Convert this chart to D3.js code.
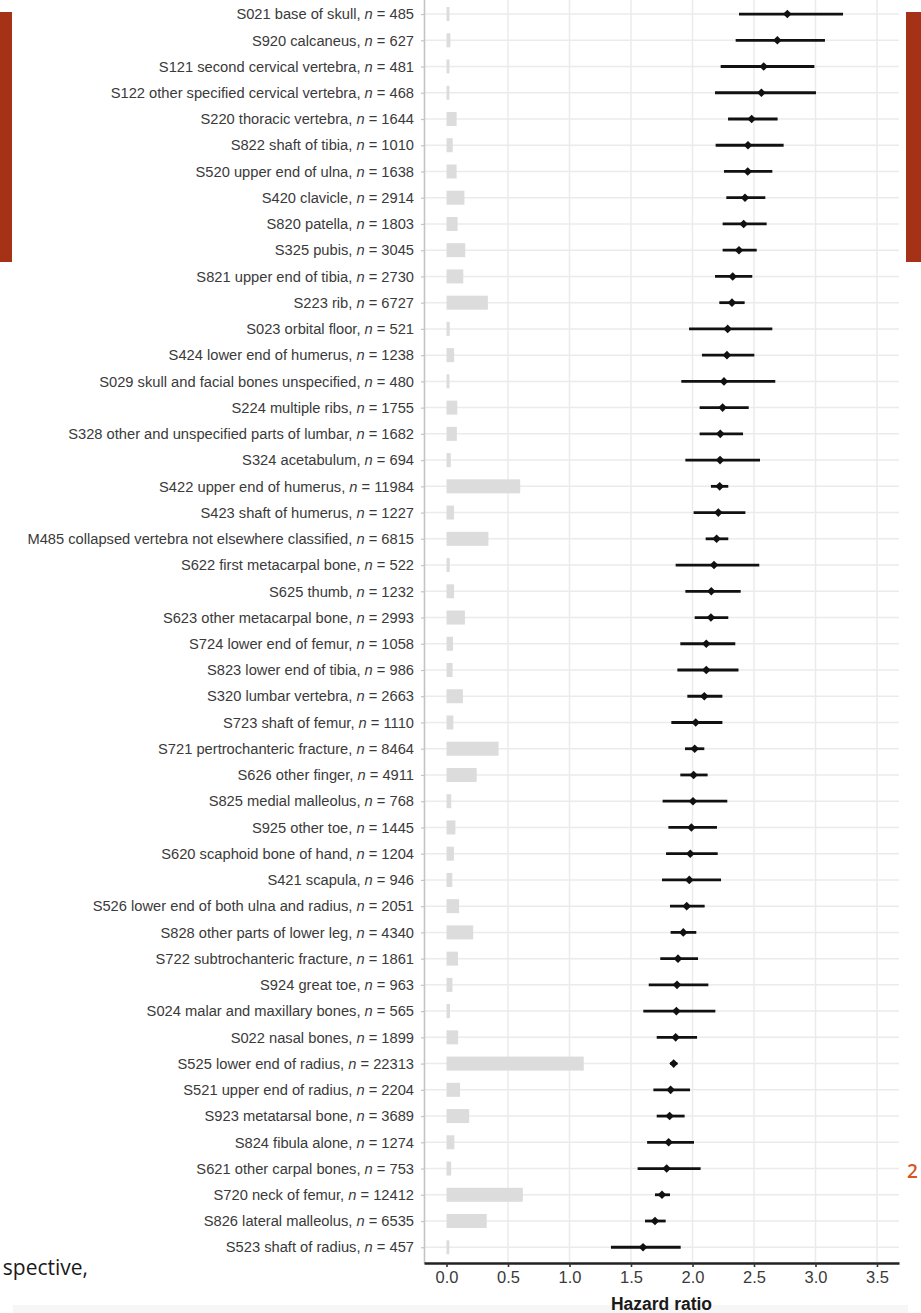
<!DOCTYPE html>
<html>
<head>
<meta charset="utf-8">
<script src="https://cdn.jsdelivr.net/npm/d3@7"></script>
<style>
  html, body { margin: 0; padding: 0; background: #ffffff; }
  svg { display: block; }
</style>
</head>
<body>
<svg id="chart" width="921" height="1313"></svg>
<script>
// Fracture sites (top to bottom), case counts and hazard ratios with 95% CI
const sites = [
  "S021 base of skull", "S920 calcaneus", "S121 second cervical vertebra",
  "S122 other specified cervical vertebra", "S220 thoracic vertebra", "S822 shaft of tibia",
  "S520 upper end of ulna", "S420 clavicle", "S820 patella", "S325 pubis",
  "S821 upper end of tibia", "S223 rib", "S023 orbital floor", "S424 lower end of humerus",
  "S029 skull and facial bones unspecified", "S224 multiple ribs",
  "S328 other and unspecified parts of lumbar", "S324 acetabulum", "S422 upper end of humerus",
  "S423 shaft of humerus", "M485 collapsed vertebra not elsewhere classified",
  "S622 first metacarpal bone", "S625 thumb", "S623 other metacarpal bone",
  "S724 lower end of femur", "S823 lower end of tibia", "S320 lumbar vertebra",
  "S723 shaft of femur", "S721 pertrochanteric fracture", "S626 other finger",
  "S825 medial malleolus", "S925 other toe", "S620 scaphoid bone of hand", "S421 scapula",
  "S526 lower end of both ulna and radius", "S828 other parts of lower leg",
  "S722 subtrochanteric fracture", "S924 great toe", "S024 malar and maxillary bones",
  "S022 nasal bones", "S525 lower end of radius", "S521 upper end of radius",
  "S923 metatarsal bone", "S824 fibula alone", "S621 other carpal bones",
  "S720 neck of femur", "S826 lateral malleolus", "S523 shaft of radius"
];

const counts = [
  485, 627, 481, 468, 1644, 1010, 1638, 2914, 1803, 3045,
  2730, 6727, 521, 1238, 480, 1755, 1682, 694, 11984, 1227,
  6815, 522, 1232, 2993, 1058, 986, 2663, 1110, 8464, 4911,
  768, 1445, 1204, 946, 2051, 4340, 1861, 963, 565, 1899,
  22313, 2204, 3689, 1274, 753, 12412, 6535, 457
];

const hazardRatio = [
  2.771, 2.690, 2.579, 2.560, 2.481, 2.451, 2.449, 2.427, 2.416, 2.378,
  2.327, 2.321, 2.286, 2.280, 2.256, 2.245, 2.226, 2.224, 2.221, 2.210,
  2.196, 2.175, 2.153, 2.150, 2.112, 2.112, 2.096, 2.026, 2.018, 2.009,
  2.004, 1.991, 1.982, 1.974, 1.953, 1.925, 1.882, 1.874, 1.869, 1.863,
  1.847, 1.822, 1.814, 1.806, 1.790, 1.752, 1.695, 1.598
];

const ciLower = [
  2.378, 2.351, 2.229, 2.183, 2.289, 2.188, 2.256, 2.275, 2.245, 2.245,
  2.183, 2.218, 1.972, 2.077, 1.909, 2.058, 2.058, 1.942, 2.150, 2.009,
  2.107, 1.863, 1.942, 2.018, 1.901, 1.877, 1.958, 1.828, 1.939, 1.901,
  1.757, 1.804, 1.785, 1.752, 1.817, 1.822, 1.738, 1.644, 1.600, 1.709,
  1.818, 1.682, 1.709, 1.631, 1.554, 1.695, 1.614, 1.337
];

const ciUpper = [
  3.224, 3.077, 2.991, 3.004, 2.692, 2.741, 2.649, 2.592, 2.603, 2.522,
  2.486, 2.424, 2.649, 2.503, 2.673, 2.457, 2.411, 2.549, 2.291, 2.430,
  2.291, 2.543, 2.392, 2.291, 2.348, 2.374, 2.243, 2.243, 2.096, 2.123,
  2.283, 2.199, 2.205, 2.232, 2.099, 2.031, 2.045, 2.129, 2.186, 2.037,
  1.877, 1.980, 1.936, 2.012, 2.066, 1.817, 1.782, 1.904
];

const xTicks = [0, 0.5, 1.0, 1.5, 2.0, 2.5, 3.0, 3.5];
const xTitle = "Hazard ratio";

const rows = sites.map((s, i) => ({
  site: s, n: counts[i], hr: hazardRatio[i], lo: ciLower[i], hi: ciUpper[i]
}));

const svg = d3.select("#chart");

// Panel geometry
const panel = { left: 424, right: 899, top: -1.7, bottom: 1263 };

const x = d3.scaleLinear().domain([-0.183, 3.679]).range([panel.left, panel.right]);
// counts drawn as background bars on the same axis (20000 cases per unit)
const xCount = d3.scaleLinear().domain([0, 20000]).range([x(0), x(1)]);
const y = d3.scalePoint().domain(sites).range([panel.top, panel.bottom]).padding(0.6);

// Page furniture around the figure
svg.append("rect").attr("x", 0).attr("y", 12).attr("width", 12).attr("height", 250).attr("fill", "#a53116");
svg.append("rect").attr("x", 906).attr("y", 12).attr("width", 15).attr("height", 250).attr("fill", "#a53116");
svg.append("rect").attr("x", 13).attr("y", 1305).attr("width", 895).attr("height", 8).attr("fill", "#f6f6f6");
svg.append("text").attr("x", 88).attr("y", 1275).attr("text-anchor", "end")
  .attr("font-family", "'Open Sans', sans-serif").attr("font-size", 21).attr("fill", "#1a1a1a")
  .text("spective,");
svg.append("text").attr("x", 907).attr("y", 1178)
  .attr("font-family", "'Open Sans', sans-serif").attr("font-size", 19).attr("font-weight", 600)
  .attr("fill", "#d9541e").text("2");

const plot = svg.append("g");

// Grid
plot.append("g").selectAll("line").data(sites).join("line")
  .attr("x1", panel.left).attr("x2", panel.right)
  .attr("y1", d => y(d)).attr("y2", d => y(d))
  .attr("stroke", "#ebebeb").attr("stroke-width", 1.5);
plot.append("g").selectAll("line").data(xTicks.filter(t => t > 0)).join("line")
  .attr("x1", d => x(d)).attr("x2", d => x(d))
  .attr("y1", panel.top).attr("y2", panel.bottom)
  .attr("stroke", "#ebebeb").attr("stroke-width", 1.5);

// Count bars
const barH = 14;
plot.append("g").selectAll("rect").data(rows).join("rect")
  .attr("x", x(0))
  .attr("y", d => y(d.site) - barH / 2)
  .attr("width", d => xCount(d.n) - x(0))
  .attr("height", barH)
  .attr("fill", "#dcdcdc");

// Confidence intervals
plot.append("g").selectAll("line").data(rows).join("line")
  .attr("x1", d => x(d.lo)).attr("x2", d => x(d.hi))
  .attr("y1", d => y(d.site)).attr("y2", d => y(d.site))
  .attr("stroke", "#111").attr("stroke-width", 2.8);

// Point estimates (diamonds)
const r = 4.3;
plot.append("g").selectAll("path").data(rows).join("path")
  .attr("transform", d => `translate(${x(d.hr)},${y(d.site)})`)
  .attr("d", `M0,${-r}L${r},0L0,${r}L${-r},0Z`)
  .attr("fill", "#111");

// Y axis with site labels
const yAxis = svg.append("g").attr("transform", `translate(${panel.left},0)`)
  .call(d3.axisLeft(y).tickSize(3).tickSizeOuter(0).tickPadding(7));
yAxis.select(".domain").attr("stroke", "#c4c4c4").attr("stroke-width", 1.6);
yAxis.selectAll(".tick line").attr("stroke", "#c4c4c4").attr("stroke-width", 1.2);
yAxis.selectAll(".tick text").each(function (d) {
  const t = d3.select(this);
  const row = rows[sites.indexOf(d)];
  t.text(null)
    .attr("font-family", "'Liberation Sans', Arial, sans-serif")
    .attr("font-size", 14.7)
    .attr("fill", "#3a3a3a");
  t.append("tspan").text(row.site + ", ");
  t.append("tspan").attr("font-style", "italic").text("n");
  t.append("tspan").text(" = " + row.n);
});

// X axis
const xAxis = svg.append("g").attr("transform", `translate(0,${panel.bottom})`)
  .call(d3.axisBottom(x).tickValues(xTicks).tickFormat(d3.format(".1f")).tickSize(4).tickSizeOuter(0).tickPadding(4));
xAxis.select(".domain").attr("stroke", "#222").attr("stroke-width", 2.4);
xAxis.selectAll(".tick line").attr("stroke", "#333").attr("stroke-width", 1.6);
xAxis.selectAll(".tick text")
  .attr("font-family", "'Liberation Sans', Arial, sans-serif")
  .attr("font-size", 16.5)
  .attr("fill", "#3a3a3a");

svg.append("text")
  .attr("x", (panel.left + panel.right) / 2).attr("y", 1310)
  .attr("text-anchor", "middle")
  .attr("font-family", "'Liberation Sans', Arial, sans-serif")
  .attr("font-size", 17.5).attr("font-weight", "bold").attr("fill", "#1a1a1a")
  .text(xTitle);
</script>
</body>
</html>
